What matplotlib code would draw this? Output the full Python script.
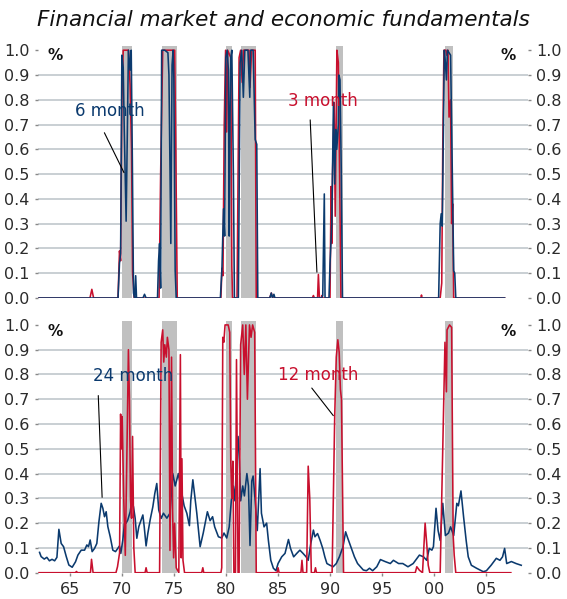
'''
 Recession probabilities from financial market and economic fundamentals
'''
import matplotlib
matplotlib.use('Agg')
import matplotlib.pyplot as plt

# ---- data (years as decimal, probabilities) ----
recessions = [(1969.95, 1970.95), (1973.85, 1975.25), (1979.95, 1980.6),
              (1981.45, 1982.9), (1990.55, 1991.25), (2001.05, 2001.85)]

# top panel : 3 month horizon (red)
top_3m_year = [1962.0, 1966.9, 1967.08, 1967.25, 1969.6, 1969.74, 1969.85, 1969.97, 1970.1, 1970.6,
               1970.76, 1970.9, 1971.0, 1971.15, 1973.55, 1973.7, 1973.9, 1975.05, 1975.15, 1975.3,
               1979.5, 1979.6, 1979.7, 1979.82, 1979.95, 1980.05, 1980.15, 1980.45, 1980.55, 1980.62,
               1981.05, 1981.25, 1981.4, 1981.55, 1981.68, 1982.2, 1982.3, 1982.45, 1982.8, 1982.9,
               1984.2, 1984.35, 1984.5, 1988.3, 1988.4, 1988.5, 1988.8, 1988.88, 1988.98, 1989.15,
               1989.22, 1989.3, 1990.0, 1990.1, 1990.17, 1990.24, 1990.4, 1990.5, 1990.66, 1990.8,
               1990.9, 1991.05, 1998.75, 1998.8, 1998.85, 2000.6, 2000.75, 2000.85, 2000.96, 2001.15,
               2001.22, 2001.35, 2001.45, 2001.6, 2001.7, 2001.8, 2001.9, 2006.8]
top_3m_val = [0.0, 0.0, 0.035, 0.0, 0.0, 0.19, 0.15, 0.8, 1.0, 1.0,
              0.86, 0.6, 0.1, 0.0, 0.0, 0.5, 1.0, 1.0, 0.64, 0.0,
              0.0, 0.12, 0.09, 0.7, 1.0, 0.67, 1.0, 0.97, 0.13, 0.0,
              0.0, 0.97, 1.0, 0.87, 1.0, 1.0, 0.85, 1.0, 1.0, 0.0,
              0.0, 0.02, 0.0, 0.0, 0.01, 0.0, 0.0, 0.095, 0.0, 0.0,
              0.01, 0.0, 0.0, 0.45, 0.22, 0.5, 0.79, 0.33, 1.0, 0.95,
              0.58, 0.0, 0.0, 0.012, 0.0, 0.0, 0.06, 0.62, 1.0, 1.0,
              0.98, 1.0, 0.73, 0.8, 0.3, 0.38, 0.0, 0.0]

# top panel : 6 month horizon (navy)
top_6m_year = [1962.0, 1969.6, 1969.74, 1969.85, 1969.97, 1970.1, 1970.2, 1970.38, 1970.5, 1970.6,
               1970.76, 1970.87, 1970.98, 1971.09, 1971.2, 1971.3, 1971.38, 1972.0, 1972.15, 1972.3,
               1973.4, 1973.5, 1973.6, 1973.7, 1973.8, 1974.1, 1974.4, 1974.5, 1974.68, 1974.8,
               1974.9, 1974.97, 1975.1, 1975.2, 1979.45, 1979.6, 1979.75, 1979.86, 1979.97, 1980.1,
               1980.22, 1980.3, 1980.38, 1980.45, 1980.55, 1980.7, 1980.8, 1981.18, 1981.35, 1981.5,
               1981.66, 1981.8, 1982.1, 1982.28, 1982.35, 1982.6, 1982.8, 1982.95, 1983.05, 1984.2,
               1984.35, 1984.45, 1984.6, 1984.7, 1989.2, 1989.3, 1989.45, 1989.52, 1989.9, 1990.0,
               1990.17, 1990.33, 1990.45, 1990.55, 1990.65, 1990.8, 1990.85, 1990.96, 1991.08, 1991.2,
               2000.45, 2000.6, 2000.7, 2000.8, 2000.9, 2001.0, 2001.1, 2001.2, 2001.3, 2001.6,
               2001.7, 2001.8, 2001.9, 2002.0, 2002.1, 2006.8]
top_6m_val = [0.0, 0.0, 0.14, 0.18, 0.98, 0.93, 0.68, 0.31, 0.68, 1.0,
              0.92, 1.0, 0.55, 0.02, 0.0, 0.09, 0.0, 0.0, 0.015, 0.0,
              0.0, 0.15, 0.22, 0.04, 1.0, 1.0, 0.99, 0.9, 0.22, 0.94,
              1.0, 0.89, 0.11, 0.0, 0.0, 0.12, 0.36, 0.25, 0.97, 1.0,
              0.92, 0.25, 0.73, 0.97, 1.0, 0.5, 0.0, 0.0, 0.95, 1.0,
              0.81, 1.0, 1.0, 0.81, 1.0, 1.0, 0.64, 0.62, 0.0, 0.0,
              0.02, 0.0, 0.015, 0.0, 0.0, 0.01, 0.42, 0.0, 0.0, 0.14,
              0.3, 0.79, 0.46, 0.68, 0.6, 0.7, 0.9, 0.88, 0.52, 0.0,
              0.0, 0.3, 0.34, 0.29, 0.64, 1.0, 0.95, 0.88, 1.0, 0.98,
              0.7, 0.41, 0.11, 0.1, 0.0, 0.0]

# bottom panel : 12 month horizon (red)
bot_12m_year = [1962.0, 1965.5, 1965.6, 1965.7, 1966.95, 1967.05, 1967.2, 1969.4, 1969.55, 1969.75,
                1969.85, 1969.92, 1970.0, 1970.15, 1970.3, 1970.45, 1970.6, 1970.7, 1970.8, 1970.9,
                1971.0, 1971.12, 1971.25, 1972.2, 1972.3, 1972.4, 1973.6, 1973.75, 1973.9, 1974.0,
                1974.1, 1974.25, 1974.35, 1974.5, 1974.6, 1974.75, 1974.85, 1974.95, 1975.05, 1975.2,
                1975.45, 1975.6, 1975.68, 1975.75, 1975.85, 1976.0, 1977.65, 1977.76, 1977.85, 1979.5,
                1979.58, 1979.68, 1979.78, 1979.9, 1980.2, 1980.35, 1980.45, 1980.55, 1980.65, 1980.75,
                1980.9, 1981.0, 1981.15, 1981.25, 1981.4, 1981.6, 1981.75, 1981.9, 1982.05, 1982.25,
                1982.4, 1982.55, 1982.75, 1982.9, 1984.9, 1985.0, 1985.1, 1987.2, 1987.3, 1987.4,
                1987.75, 1987.9, 1988.05, 1988.2, 1988.5, 1988.6, 1988.7, 1990.2, 1990.45, 1990.6,
                1990.75, 1990.88, 1991.0, 1991.1, 1991.3, 1998.2, 1998.35, 1998.6, 1998.9, 1999.15,
                1999.3, 1999.45, 1999.6, 2000.6, 2001.06, 2001.2, 2001.26, 2001.5, 2001.7, 2001.85,
                2001.95, 2002.1, 2007.4]
bot_12m_val = [0.0, 0.0, 0.005, 0.0, 0.0, 0.054, 0.0, 0.0, 0.024, 0.08,
               0.64, 0.5, 0.63, 0.3, 0.07, 0.47, 0.9, 0.7, 0.3, 0.22,
               0.55, 0.1, 0.0, 0.0, 0.02, 0.0, 0.0, 0.93, 0.98, 0.85,
               0.92, 0.87, 0.95, 0.9, 0.09, 0.87, 0.25, 0.06, 0.2, 0.02,
               0.0, 0.88, 0.06, 0.46, 0.05, 0.0, 0.0, 0.02, 0.0, 0.0,
               0.02, 0.95, 0.93, 1.0, 1.0, 0.97, 0.45, 0.3, 0.45, 0.0,
               0.0, 0.86, 0.0, 0.0, 0.92, 1.0, 0.8, 1.0, 0.7, 1.0,
               0.95, 1.0, 0.97, 0.0, 0.0, 0.02, 0.0, 0.0, 0.05, 0.0,
               0.0, 0.43, 0.3, 0.0, 0.0, 0.02, 0.0, 0.0, 0.63, 0.87,
               0.94, 0.89, 0.74, 0.7, 0.0, 0.0, 0.024, 0.01, 0.0, 0.2,
               0.12, 0.03, 0.0, 0.0, 0.93, 0.73, 0.98, 1.0, 0.99, 0.15,
               0.07, 0.0, 0.0]

# bottom panel : 24 month horizon (navy)
bot_24m_year = [1962.05, 1962.2, 1962.5, 1962.75, 1963.0, 1963.25, 1963.5, 1963.72, 1963.91, 1964.13,
                1964.36, 1964.62, 1964.87, 1965.19, 1965.51, 1965.74, 1966.06, 1966.38, 1966.6, 1966.76,
                1966.92, 1967.11, 1967.34, 1967.56, 1967.76, 1967.98, 1968.14, 1968.3, 1968.46, 1968.62,
                1968.85, 1969.1, 1969.36, 1969.58, 1969.74, 1969.87, 1970.06, 1970.22, 1970.38, 1970.54,
                1970.77, 1970.93, 1971.09, 1971.25, 1971.41, 1971.6, 1971.83, 1971.99, 1972.12, 1972.3,
                1972.47, 1972.69, 1972.95, 1973.14, 1973.33, 1973.52, 1973.75, 1973.97, 1974.3, 1974.6,
                1974.87, 1975.1, 1975.41, 1975.74, 1975.96, 1976.22, 1976.47, 1976.6, 1976.8, 1977.18,
                1977.5, 1977.8, 1978.2, 1978.46, 1978.7, 1978.9, 1979.26, 1979.58, 1979.8, 1980.06,
                1980.3, 1980.5, 1980.7, 1980.85, 1981.0, 1981.15, 1981.28, 1981.4, 1981.6, 1981.76,
                1982.0, 1982.15, 1982.3, 1982.47, 1982.6, 1982.8, 1983.0, 1983.27, 1983.4, 1983.65,
                1983.9, 1984.07, 1984.3, 1984.55, 1984.8, 1985.0, 1985.35, 1985.67, 1986.0, 1986.2,
                1986.5, 1986.8, 1987.1, 1987.4, 1987.7, 1987.9, 1988.15, 1988.4, 1988.55, 1988.8,
                1989.05, 1989.3, 1989.5, 1989.7, 1990.0, 1990.3, 1990.6, 1990.9, 1991.25, 1991.5,
                1991.7, 1992.0, 1992.35, 1992.65, 1993.2, 1993.5, 1993.8, 1994.1, 1994.5, 1994.85,
                1995.3, 1995.8, 1996.1, 1996.6, 1997.0, 1997.5, 1998.0, 1998.6, 1999.0, 1999.3,
                1999.55, 1999.8, 1999.95, 2000.2, 2000.4, 2000.6, 2000.85, 2001.1, 2001.4, 2001.6,
                2001.9, 2002.2, 2002.35, 2002.6, 2002.85, 2003.1, 2003.3, 2003.6, 2004.1, 2004.75,
                2005.05, 2005.5, 2006.0, 2006.35, 2006.6, 2006.8, 2007.0, 2007.45, 2007.9, 2008.4]
bot_24m_val = [0.082, 0.065, 0.055, 0.062, 0.048, 0.054, 0.048, 0.062, 0.175, 0.118,
               0.105, 0.065, 0.031, 0.022, 0.044, 0.071, 0.091, 0.091, 0.112, 0.105,
               0.132, 0.085, 0.098, 0.118, 0.205, 0.28, 0.26, 0.226, 0.246, 0.186,
               0.145, 0.091, 0.085, 0.098, 0.108, 0.078, 0.132, 0.2, 0.2, 0.213,
               0.246, 0.29, 0.266, 0.219, 0.139, 0.186, 0.213, 0.233, 0.186, 0.108,
               0.159, 0.213, 0.266, 0.32, 0.36, 0.253, 0.219, 0.24, 0.22, 0.24,
               0.40, 0.35, 0.40, 0.32, 0.27, 0.24, 0.19, 0.29, 0.375, 0.24,
               0.105, 0.16, 0.246, 0.21, 0.226, 0.185, 0.145, 0.14, 0.16, 0.14,
               0.185, 0.29, 0.35, 0.29, 0.45, 0.55, 0.45, 0.29, 0.35, 0.31,
               0.40, 0.35, 0.11, 0.37, 0.39, 0.29, 0.17, 0.42, 0.24, 0.185,
               0.20, 0.13, 0.05, 0.018, 0.008, 0.037, 0.064, 0.078, 0.134, 0.098,
               0.064, 0.078, 0.091, 0.078, 0.064, 0.05, 0.118, 0.172, 0.145, 0.158,
               0.13, 0.098, 0.064, 0.037, 0.03, 0.024, 0.037, 0.064, 0.105, 0.165,
               0.14, 0.105, 0.064, 0.037, 0.011, 0.008, 0.018, 0.008, 0.024, 0.053,
               0.045, 0.037, 0.05, 0.037, 0.037, 0.024, 0.037, 0.071, 0.064, 0.05,
               0.098, 0.091, 0.105, 0.26, 0.17, 0.13, 0.28, 0.15, 0.16, 0.185,
               0.15, 0.28, 0.27, 0.33, 0.226, 0.13, 0.064, 0.03, 0.018, 0.004,
               0.008, 0.03, 0.058, 0.05, 0.064, 0.098, 0.037, 0.045, 0.037, 0.03]

year_ticks = [1965, 1970, 1975, 1980, 1985, 1990, 1995, 2000, 2005]
year_labels = ['65', '70', '75', '80', '85', '90', '95', '00', '05']
prob_ticks = [0.0, 0.1, 0.2, 0.3, 0.4, 0.5, 0.6, 0.7, 0.8, 0.9, 1.0]

RED = '#c8102e'
NAVY = '#0b3a6e'
SHADE = '#c0c0c0'
GRID = '#c9cfd3'
TXT = '#2b2b2b'

W, H = 567, 599
fig = plt.figure(figsize=(W / 100, H / 100), dpi=100)


def Make_Panel(rect, series, show_x):
	'''
	Creates one panel with recession shading, two probability lines and ticks on both sides
	'''
	ax = fig.add_axes(rect)
	for start, end in recessions: # Gray recession bars
		ax.axvspan(start, end, color=SHADE, lw=0, zorder=1)
	for y in prob_ticks[1:-1]: # Horizontal grid lines
		ax.axhline(y, color=GRID, lw=1.4, zorder=0)
	for xs, ys, col, z in series: # Probability curves
		ax.plot(xs, ys, color=col, lw=1.15, zorder=z)

	ax.set_xlim(1961.9, 2009.05)
	ax.set_ylim(0, 1.017)
	ax.set_yticks(prob_ticks)
	ax.set_yticklabels(['{:.1f}'.format(t) for t in prob_ticks])
	ax.tick_params(axis='y', left=True, right=True, labelleft=True, labelright=True,
	               length=2, width=1, color='#888888', pad=4, labelsize=11.5, labelcolor=TXT)
	if show_x:
		ax.set_xticks(year_ticks)
		ax.set_xticklabels(year_labels)
		ax.tick_params(axis='x', length=2, width=1, color='#888888', pad=5,
		               labelsize=11.5, labelcolor=TXT)
	else:
		ax.set_xticks([])
	for s in ax.spines.values():
		s.set_visible(False)
	return ax


ax1 = Make_Panel([38 / W, (H - 298) / H, 490 / W, 252 / H],
                 [(top_3m_year, top_3m_val, RED, 2), (top_6m_year, top_6m_val, NAVY, 3)], False)
ax2 = Make_Panel([38 / W, (H - 572.7) / H, 490 / W, 252 / H],
                 [(bot_24m_year, bot_24m_val, NAVY, 2), (bot_12m_year, bot_12m_val, RED, 3)], True)

# Title
fig.text(0.5, 1 - 20 / H, 'Financial market and economic fundamentals', ha='center', va='center',
         fontsize=15.5, style='italic', fontweight='medium', color='#111111')

# Percent signs in the panel corners
for px, py in [(55, 56), (508, 56), (55, 331), (508, 331)]:
	fig.text(px / W, 1 - py / H, '%', ha='center', va='center', fontsize=11,
	         fontweight='bold', color='#111111')

# Series labels with leader lines
labels = [
	(ax1, '6 month', NAVY, (1968.85, 0.754), (1968.17, 0.677), (1970.29, 0.496)),
	(ax1, '3 month', RED, (1989.33, 0.794), (1988.08, 0.73), (1988.75, 0.093)),
	(ax2, '24 month', NAVY, (1971.06, 0.794), (1967.69, 0.726), (1968.08, 0.293)),
	(ax2, '12 month', RED, (1988.85, 0.798), (1988.08, 0.754), (1990.48, 0.625)),
]
for ax, txt, col, pos, start, end in labels:
	ax.text(pos[0], pos[1], txt, color=col, fontsize=12, ha='center', va='center', zorder=5)
	ax.annotate('', xy=end, xytext=start,
	            arrowprops=dict(arrowstyle='-', lw=0.8, color='black'), zorder=5)

fig.savefig('out.png', dpi=100)
